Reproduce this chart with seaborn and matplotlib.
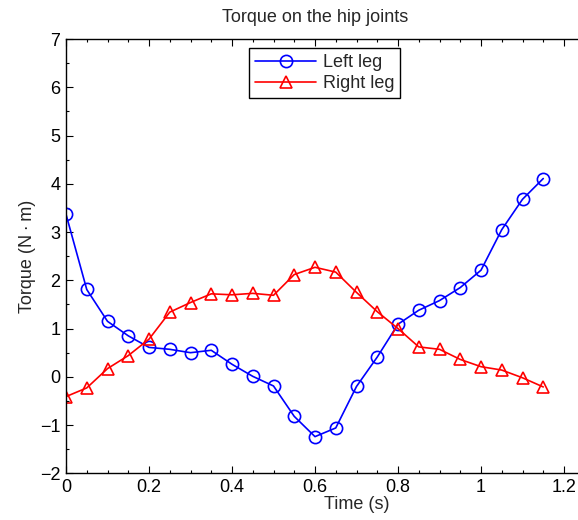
import matplotlib
matplotlib.use("Agg")
import matplotlib.pyplot as plt
from matplotlib.ticker import MultipleLocator, FuncFormatter
import pandas as pd
import seaborn as sns

# Sample times (s)
time_s = [0.00, 0.05, 0.10, 0.15, 0.20, 0.25, 0.30, 0.35, 0.40, 0.45, 0.50, 0.55,
          0.60, 0.65, 0.70, 0.75, 0.80, 0.85, 0.90, 0.95, 1.00, 1.05, 1.10, 1.15]

# Hip joint torque (N·m)
left_leg = [3.37, 1.81, 1.15, 0.85, 0.61, 0.57, 0.50, 0.55, 0.26, 0.01, -0.19, -0.82,
            -1.24, -1.06, -0.20, 0.41, 1.09, 1.38, 1.58, 1.85, 2.21, 3.05, 3.68, 4.11]
right_leg = [-0.41, -0.23, 0.17, 0.44, 0.78, 1.34, 1.54, 1.72, 1.70, 1.73, 1.69, 2.12,
             2.27, 2.17, 1.75, 1.35, 1.00, 0.62, 0.57, 0.36, 0.21, 0.14, -0.02, -0.21]

series_names = ["Left leg", "Right leg"]
series_colors = ["#0000ff", "#ff0000"]
series_markers = ["o", "^"]

sns.set_theme(style="ticks")
plt.rcParams["font.family"] = ["Liberation Sans", "DejaVu Sans"]
plt.rcParams["axes.unicode_minus"] = True

fs = 13
fig = plt.figure(figsize=(5.78, 5.2), dpi=100)
ax = fig.add_axes([66 / 578, 0.0898, 1.4 * 415 / 578, 0.835])

df = pd.DataFrame({
    "Time": time_s * 2,
    "Torque": left_leg + right_leg,
    "Leg": [series_names[0]] * len(time_s) + [series_names[1]] * len(time_s),
})

for name, color, marker in zip(series_names, series_colors, series_markers):
    sub = df[df["Leg"] == name]
    sns.lineplot(data=sub, x="Time", y="Torque", ax=ax, color=color,
                 marker=marker, markersize=8.8, markerfacecolor="none",
                 markeredgecolor=color, markeredgewidth=1.2, linewidth=1.2,
                 label=name, estimator=None, sort=False)

ax.set_xlim(0, 1.4)
ax.set_ylim(-2, 7)
ax.set_xticks([0, 0.2, 0.4, 0.6, 0.8, 1.0, 1.2])
ax.xaxis.set_minor_locator(MultipleLocator(0.05))
ax.yaxis.set_major_locator(MultipleLocator(1))
ax.yaxis.set_minor_locator(MultipleLocator(0.5))
ax.xaxis.set_major_formatter(FuncFormatter(lambda v, p: f"{v:g}"))
ax.yaxis.set_major_formatter(FuncFormatter(lambda v, p: f"{v:g}".replace("-", "\u2212")))
ax.tick_params(which="both", top=True, right=True, direction="in",
               width=0.8, labelsize=fs, pad=4, colors="black")
ax.tick_params(which="major", length=5)
ax.tick_params(which="minor", length=2.5)
for side in ["left", "bottom", "top", "right"]:
    ax.spines[side].set_visible(True)
    ax.spines[side].set_color("black")
    ax.spines[side].set_linewidth(1.0)

ax.set_xlabel("Time (s)", fontsize=fs, labelpad=0)
ax.set_ylabel("Torque (N\u2009\u00b7\u2009m)", fontsize=fs, labelpad=3)
fig.text((66 + 0.5 * 1.2 * 415) / 578, (520 - 17) / 520, "Torque on the hip joints",
         ha="center", va="center", fontsize=fs)

leg = ax.legend(loc="upper center", bbox_to_anchor=(324.5 / 578, (520 - 48) / 520),
                bbox_transform=fig.transFigure, borderaxespad=0, fontsize=fs,
                frameon=True, fancybox=False, framealpha=1, edgecolor="black",
                handlelength=3.4, handletextpad=0.35, borderpad=0.35, labelspacing=0.2)
leg.get_frame().set_linewidth(1.0)

fig.savefig("out.png", dpi=100)
